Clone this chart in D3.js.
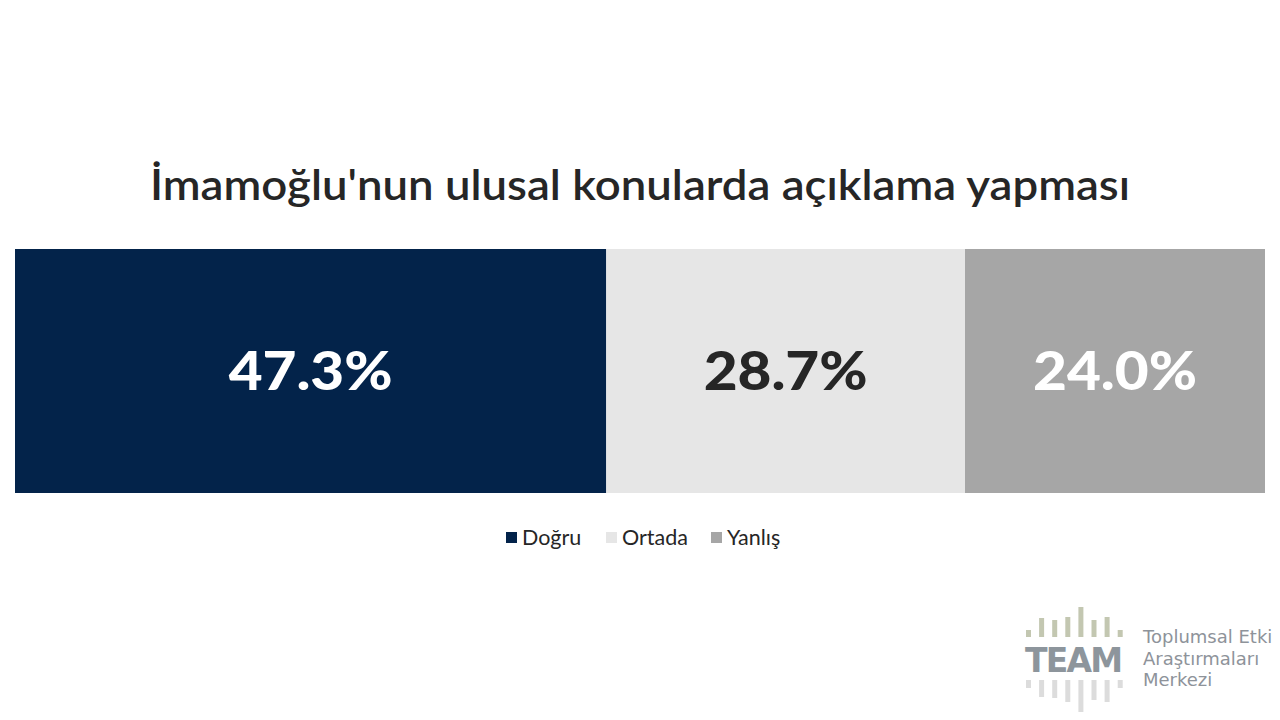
<!DOCTYPE html>
<html><head><meta charset="utf-8">
<script src="https://cdn.jsdelivr.net/npm/d3@7"></script>
<style>body{margin:0;background:#fff}svg{display:block}</style>
</head><body>
<svg id="c" width="1280" height="720"></svg>
<script>
const categories = ["Doğru", "Ortada", "Yanlış"];
const values = [47.3, 28.7, 24.0];
const colors = ["#03234a", "#e6e6e6", "#a6a6a6"];
const labelColors = ["#ffffff", "#262626", "#ffffff"];
const title = "İmamoğlu'nun ulusal konularda açıklama yapması";
const logoTop = [7, 19, 17, 20, 30, 17, 20, 7];
const logoBottom = [8, 17, 18, 22, 32, 20, 22, 8];

const svg = d3.select("#c");

svg.append("text").attr("x", 640).attr("y", 200).attr("text-anchor", "middle")
  .attr("font-family", "Lato, 'Noto Sans', sans-serif").attr("font-weight", 600)
  .attr("font-size", 42).attr("fill", "#262626")
  .attr("textLength", 980).attr("lengthAdjust", "spacingAndGlyphs").text(title);

const x = d3.scaleLinear().domain([0, d3.sum(values)]).range([15, 1265]);
const cum = d3.cumsum(values);
const starts = values.map((v, i) => cum[i] - v);
const barY = 249, barH = 244;

const g = svg.append("g");
g.selectAll("rect").data(values).join("rect")
  .attr("x", (d, i) => x(starts[i])).attr("y", barY)
  .attr("width", (d, i) => x(cum[i]) - x(starts[i])).attr("height", barH)
  .attr("fill", (d, i) => colors[i]);
g.selectAll("text").data(values).join("text")
  .attr("x", (d, i) => (x(starts[i]) + x(cum[i])) / 2).attr("y", barY + barH / 2 + 19)
  .attr("text-anchor", "middle").attr("font-family", "Lato, 'Noto Sans', sans-serif")
  .attr("font-weight", 900).attr("font-size", 54)
  .attr("textLength", 164).attr("lengthAdjust", "spacingAndGlyphs")
  .attr("fill", (d, i) => labelColors[i]).text(d => d.toFixed(1) + "%");

// legend
const legX = [506, 606, 711];
const lg = svg.append("g").attr("font-family", "Lato, 'Noto Sans', sans-serif").attr("font-size", 21.5).attr("fill", "#262626");
categories.forEach((c, i) => {
  lg.append("rect").attr("x", legX[i]).attr("y", 532).attr("width", 11).attr("height", 11).attr("fill", colors[i]);
  lg.append("text").attr("x", legX[i] + 16).attr("y", 545).text(c);
});

// logo
const logo = svg.append("g");
const barXs = d3.range(8).map(i => 1026 + i * 13.1);
logo.selectAll(".t").data(logoTop).join("rect").attr("class", "t")
  .attr("x", (d, i) => barXs[i]).attr("y", d => 637 - d).attr("width", 5).attr("height", d => d).attr("fill", "#c3c7b1");
logo.selectAll(".b").data(logoBottom).join("rect").attr("class", "b")
  .attr("x", (d, i) => barXs[i]).attr("y", 680).attr("width", 5).attr("height", d => d).attr("fill", "#dcdcdc");
logo.append("text").attr("x", 1025).attr("y", 672).attr("textLength", 98).attr("lengthAdjust", "spacing")
  .attr("font-family", "'DejaVu Sans', sans-serif").attr("font-weight", "bold").attr("font-size", 33).attr("fill", "#8d959c").text("TEAM");
["Toplumsal Etki", "Araştırmaları", "Merkezi"].forEach((t, i) => {
  logo.append("text").attr("x", 1143).attr("y", 643 + i * 21.5).attr("font-family", "'DejaVu Sans', sans-serif")
    .attr("font-size", 18).attr("fill", "#8e939a").text(t);
});
</script>
</body></html>
